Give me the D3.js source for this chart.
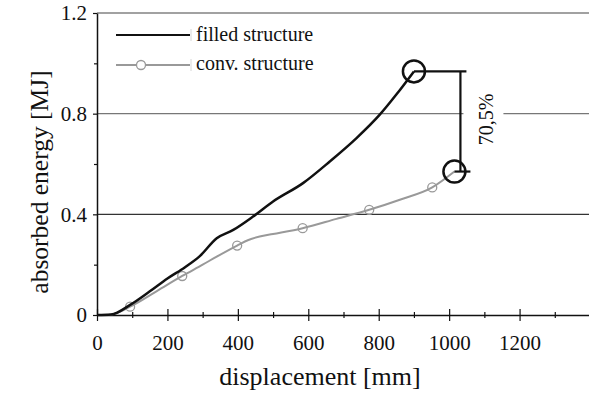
<!DOCTYPE html>
<html>
<head>
<meta charset="utf-8">
<script src="https://cdn.jsdelivr.net/npm/d3@7"></script>
<style>
  body { margin: 0; background: #fff; }
</style>
</head>
<body>
<div id="chart"></div>
<script>
// filled structure curve (displacement mm, energy MJ)
var filledX = [0, 40, 94, 150, 200, 250, 292, 340, 387, 443, 500, 585, 661, 737, 803, 850, 900];
var filledY = [0, 0.002, 0.04, 0.094, 0.145, 0.19, 0.234, 0.305, 0.338, 0.391, 0.451, 0.524, 0.61, 0.703, 0.796, 0.876, 0.968];

// conventional structure curve
var convX = [0, 40, 94, 170, 242, 300, 340, 398, 430, 462, 500, 584, 680, 773, 860, 952, 1015];
var convY = [0, 0.002, 0.033, 0.095, 0.155, 0.2, 0.232, 0.276, 0.298, 0.312, 0.322, 0.345, 0.382, 0.418, 0.458, 0.507, 0.57];
// marker positions on the conv. curve
var convMarkX = [94, 242, 398, 584, 773, 952];
var convMarkY = [0.033, 0.155, 0.276, 0.345, 0.418, 0.507];

var xMajor = [0, 200, 400, 600, 800, 1000, 1200];
var xMinor = [100, 300, 500, 700, 900, 1100, 1300];
var yMajor = [0, 0.4, 0.8, 1.2];
var yMinor = [0.2, 0.6, 1.0];
var gridY = [0.4, 0.8];
var yLabels = ["0", "0.4", "0.8", "1.2"];
var diffLabel = "70,5%";

var FONT = "'Liberation Serif'";
var width = 589, height = 401;
var svg = d3.select("#chart").append("svg")
    .attr("width", width)
    .attr("height", height);

var x = d3.scaleLinear().domain([0, 1400]).range([97, 590]);
var y = d3.scaleLinear().domain([0, 1.2]).range([315, 13]);

// grid lines
svg.selectAll(".grid")
    .data(gridY)
    .enter().append("line")
    .attr("x1", x(0)).attr("x2", width)
    .attr("y1", function(d) { return y(d); })
    .attr("y2", function(d) { return y(d); })
    .attr("stroke", function(d) { return d == 0.8 ? "#777" : "#333"; })
    .attr("stroke-width", 1.2);

// top border
svg.append("line")
    .attr("x1", x(0)).attr("x2", width)
    .attr("y1", y(1.2)).attr("y2", y(1.2))
    .attr("stroke", "#444").attr("stroke-width", 1.2);

// x axis
var xAxis = svg.append("g")
    .attr("transform", "translate(0," + y(0) + ")")
    .call(d3.axisBottom(x).tickValues(xMajor).tickSize(6).tickPadding(14).tickSizeOuter(0)
        .tickFormat(d3.format("d")));
xAxis.selectAll(".tick line").attr("y1", -6).attr("stroke", "#111").attr("stroke-width", 1.2);
xAxis.selectAll(".tick text").attr("font-size", 21).style("font-family", FONT).attr("fill", "#111");
xAxis.select(".domain").attr("stroke", "#111").attr("stroke-width", 1.5);

var xAxisMinor = svg.append("g")
    .attr("transform", "translate(0," + y(0) + ")")
    .call(d3.axisBottom(x).tickValues(xMinor).tickSize(3).tickFormat("").tickSizeOuter(0));
xAxisMinor.selectAll(".tick line").attr("y1", -3).attr("stroke", "#111").attr("stroke-width", 1.2);
xAxisMinor.select(".domain").remove();

// y axis
var yAxis = svg.append("g")
    .attr("transform", "translate(" + x(0) + ",0)")
    .call(d3.axisLeft(y).tickValues(yMajor).tickSize(4).tickPadding(6).tickSizeOuter(0)
        .tickFormat(function(d, i) { return yLabels[i]; }));
yAxis.selectAll(".tick line").attr("stroke", "#111").attr("stroke-width", 1.2);
yAxis.selectAll(".tick text").attr("font-size", 21).style("font-family", FONT).attr("fill", "#111");
yAxis.select(".domain").attr("stroke", "#111").attr("stroke-width", 1.5);

var yAxisMinor = svg.append("g")
    .attr("transform", "translate(" + x(0) + ",0)")
    .call(d3.axisLeft(y).tickValues(yMinor).tickSize(3).tickFormat("").tickSizeOuter(0));
yAxisMinor.selectAll(".tick line").attr("stroke", "#111").attr("stroke-width", 1.2);
yAxisMinor.select(".domain").remove();

// axis titles
svg.append("text")
    .attr("x", 320).attr("y", 385)
    .attr("text-anchor", "middle")
    .attr("font-size", 26)
    .style("font-family", FONT).attr("fill", "#111")
    .text("displacement [mm]");

svg.append("text")
    .attr("transform", "translate(48,182) rotate(-90)")
    .attr("text-anchor", "middle")
    .attr("font-size", 25.5)
    .style("font-family", FONT).attr("fill", "#111")
    .text("absorbed energy [MJ]");

// lines
var line = d3.line()
    .x(function(d) { return x(d[0]); })
    .y(function(d) { return y(d[1]); })
    .curve(d3.curveMonotoneX);

var convData = convX.map(function(d, i) { return [d, convY[i]]; });
var filledData = filledX.map(function(d, i) { return [d, filledY[i]]; });

svg.append("path")
    .datum(convData)
    .attr("d", line)
    .attr("fill", "none")
    .attr("stroke", "#999")
    .attr("stroke-width", 2);

svg.selectAll(".mark")
    .data(convMarkX)
    .enter().append("circle")
    .attr("cx", function(d) { return x(d); })
    .attr("cy", function(d, i) { return y(convMarkY[i]); })
    .attr("r", 4.5)
    .attr("fill", "none")
    .attr("stroke", "#999")
    .attr("stroke-width", 1.3);

svg.append("path")
    .datum(filledData)
    .attr("d", line)
    .attr("fill", "none")
    .attr("stroke", "#111")
    .attr("stroke-width", 2.5);

// annotation of the difference
var fEnd = filledData[filledData.length - 1];
var cEnd = convData[convData.length - 1];
var vx = x(cEnd[0]) + 6;

svg.append("rect")
    .attr("x", vx + 3).attr("y", y(0.8) - 3)
    .attr("width", 40).attr("height", 6)
    .attr("fill", "#fff");

svg.append("line")
    .attr("x1", x(fEnd[0])).attr("x2", vx + 6)
    .attr("y1", y(fEnd[1])).attr("y2", y(fEnd[1]))
    .attr("stroke", "#111").attr("stroke-width", 2.2);
svg.append("line")
    .attr("x1", vx).attr("x2", vx)
    .attr("y1", y(fEnd[1])).attr("y2", y(cEnd[1]))
    .attr("stroke", "#111").attr("stroke-width", 2.2);
svg.append("line")
    .attr("x1", x(cEnd[0])).attr("x2", vx + 10)
    .attr("y1", y(cEnd[1])).attr("y2", y(cEnd[1]))
    .attr("stroke", "#111").attr("stroke-width", 2.2);

svg.selectAll(".endc")
    .data([fEnd, cEnd])
    .enter().append("circle")
    .attr("cx", function(d) { return x(d[0]); })
    .attr("cy", function(d) { return y(d[1]); })
    .attr("r", 11)
    .attr("fill", "none")
    .attr("stroke", "#111")
    .attr("stroke-width", 2.5);

svg.append("text")
    .attr("transform", "translate(" + (vx + 33) + "," + ((y(fEnd[1]) + y(cEnd[1])) / 2 - 2) + ") rotate(-90)")
    .attr("text-anchor", "middle")
    .attr("font-size", 20)
    .style("font-family", FONT).attr("fill", "#111")
    .text(diffLabel);

// legend
var legend = svg.append("g");
legend.append("line")
    .attr("x1", 116).attr("x2", 190).attr("y1", 35).attr("y2", 35)
    .attr("stroke", "#111").attr("stroke-width", 2);
legend.append("line")
    .attr("x1", 116).attr("x2", 190).attr("y1", 65).attr("y2", 65)
    .attr("stroke", "#999").attr("stroke-width", 2);
legend.append("circle")
    .attr("cx", 141).attr("cy", 65).attr("r", 4.5)
    .attr("fill", "#fff").attr("stroke", "#999").attr("stroke-width", 1.3);
legend.selectAll(".sep")
    .data([35, 65])
    .enter().append("line")
    .attr("x1", 191).attr("x2", 191)
    .attr("y1", function(d) { return d - 6; })
    .attr("y2", function(d) { return d + 6; })
    .attr("stroke", "#ccc").attr("stroke-width", 0.8);
legend.append("text")
    .attr("x", 196).attr("y", 41)
    .attr("font-size", 20)
    .style("font-family", FONT).attr("fill", "#111")
    .text("filled structure");
legend.append("text")
    .attr("x", 196).attr("y", 70)
    .attr("font-size", 20)
    .style("font-family", FONT).attr("fill", "#111")
    .text("conv. structure");
</script>
</body>
</html>
